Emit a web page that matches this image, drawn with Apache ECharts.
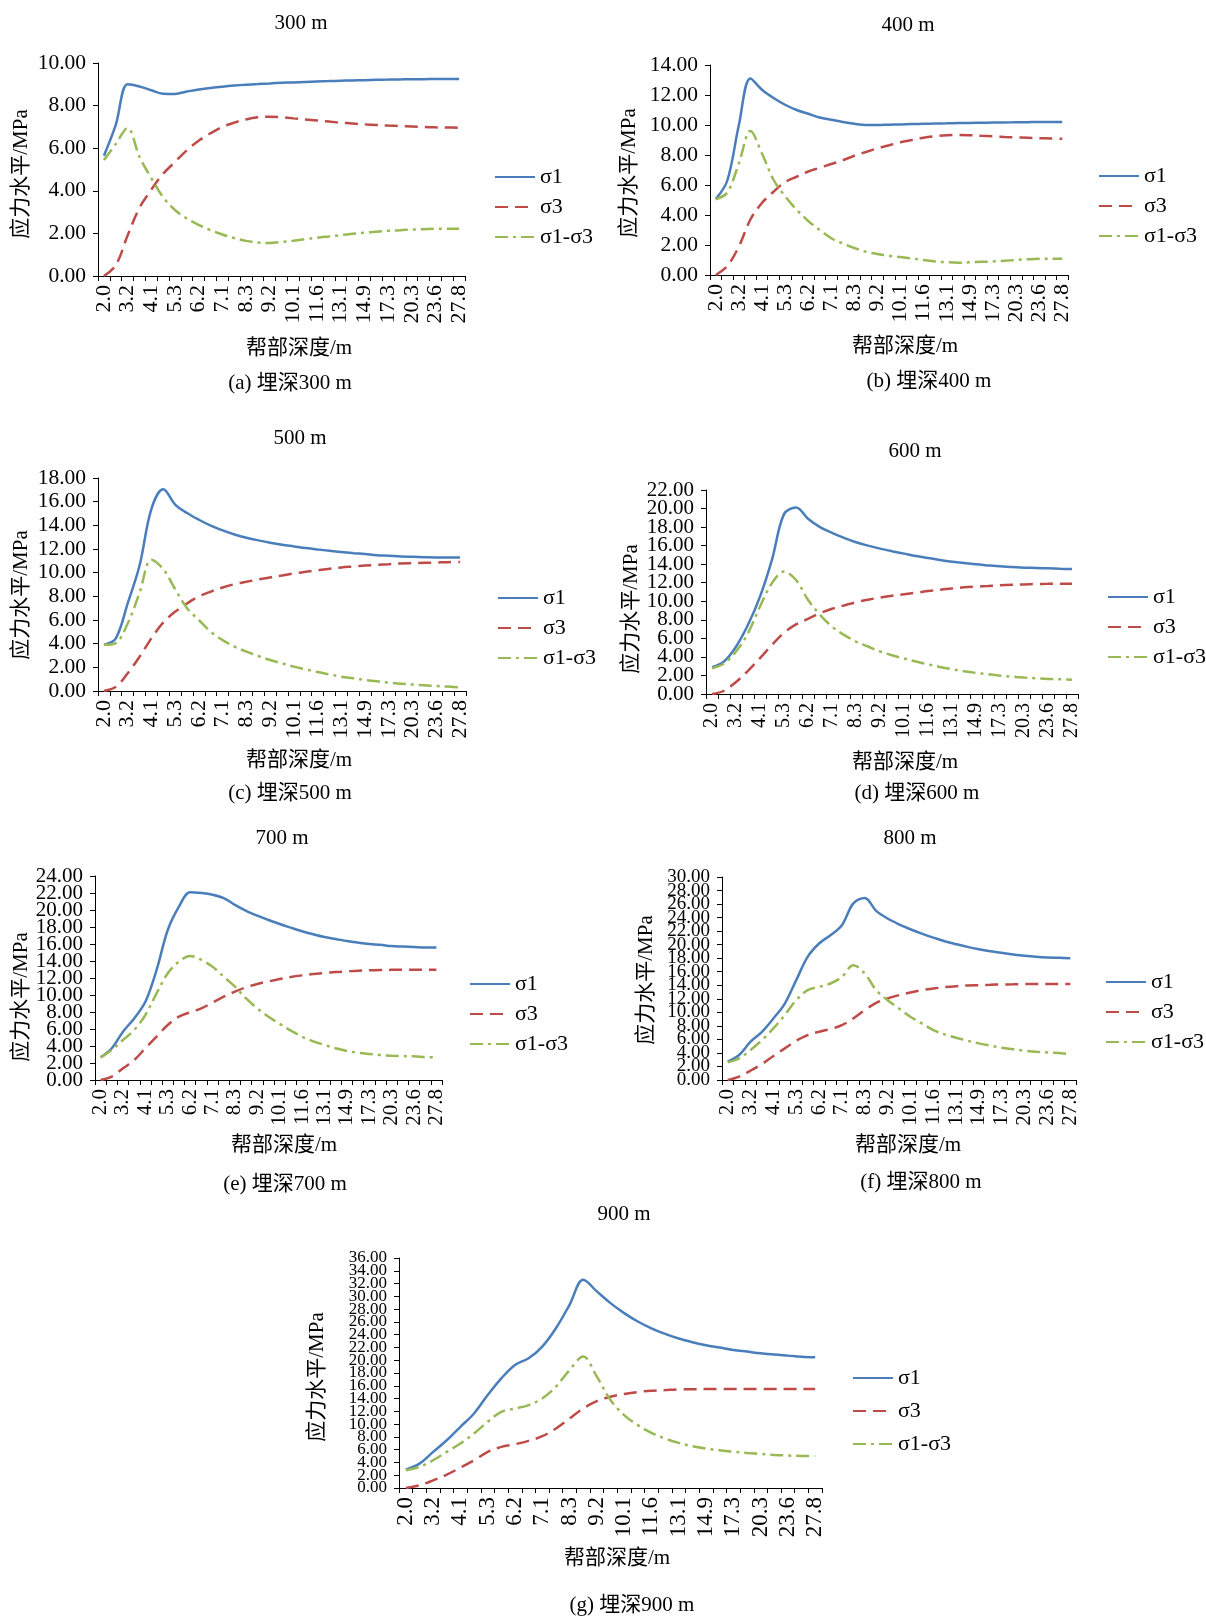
<!DOCTYPE html>
<html><head><meta charset="utf-8">
<script src="https://cdn.jsdelivr.net/npm/echarts@6/dist/echarts.min.js"></script>
<style>html,body{margin:0;padding:0;background:#fff}#c{width:1206px;height:1618px}</style>
</head><body><div id="c"></div>
<script>
// ---- data ----
const depthLabels = ['2.0','2.6','3.2','3.7','4.1','4.7','5.3','5.8','6.2','6.7','7.1','7.7','8.3','8.8','9.2','9.7','10.1','10.9','11.6','12.3','13.1','14.0','14.9','16.1','17.3','18.8','20.3','21.9','23.6','25.7','27.8'];
const seriesNames = ['σ1','σ3','σ1-σ3'];
const panelTitles = ['300 m','400 m','500 m','600 m','700 m','800 m','900 m'];
const panelCaptions = ['(a) 埋深300 m','(b) 埋深400 m','(c) 埋深500 m','(d) 埋深600 m','(e) 埋深700 m','(f) 埋深800 m','(g) 埋深900 m'];
const yMaxes = [10, 14, 18, 22, 24, 30, 36];
const yStep = 2;
const xAxisName = '帮部深度/m';
const yAxisName = '应力水平/MPa';

const s1_300 = [5.65,7.1,9.0,8.9,8.72,8.56,8.55,8.66,8.76,8.83,8.89,8.94,8.98,9.01,9.04,9.07,9.09,9.11,9.13,9.15,9.17,9.18,9.19,9.21,9.22,9.23,9.24,9.24,9.25,9.25,9.25];
const s3_300 = [0.0,0.5,1.9,3.2,4.05,4.8,5.35,5.9,6.35,6.7,7.0,7.2,7.35,7.45,7.48,7.45,7.4,7.35,7.3,7.25,7.2,7.16,7.12,7.09,7.06,7.04,7.02,7.0,6.98,6.97,6.96];
const s13_300 = [5.45,6.2,6.95,5.6,4.6,3.7,3.1,2.7,2.4,2.15,1.95,1.78,1.65,1.57,1.55,1.6,1.66,1.73,1.8,1.86,1.92,1.98,2.03,2.08,2.12,2.15,2.18,2.2,2.22,2.22,2.22];

const s1_400 = [5.06,6.3,10.0,13.1,12.35,11.8,11.35,11.0,10.75,10.5,10.35,10.2,10.08,10.0,10.0,10.02,10.04,10.06,10.08,10.1,10.11,10.13,10.14,10.15,10.16,10.17,10.18,10.19,10.2,10.2,10.2];
const s3_400 = [0.0,0.6,1.9,3.7,4.8,5.55,6.2,6.55,6.9,7.15,7.4,7.65,7.95,8.2,8.45,8.65,8.85,9.0,9.15,9.25,9.32,9.34,9.32,9.28,9.24,9.2,9.18,9.15,9.12,9.1,9.08];
const s13_400 = [5.05,5.5,7.45,9.6,8.1,6.35,5.25,4.35,3.6,3.0,2.45,2.1,1.8,1.55,1.4,1.28,1.2,1.1,1.0,0.9,0.85,0.82,0.85,0.88,0.9,0.95,1.0,1.05,1.08,1.08,1.08];

const s1_500 = [3.9,4.45,7.4,10.6,15.4,17.05,15.75,15.04,14.47,13.97,13.57,13.23,12.95,12.73,12.53,12.36,12.22,12.08,11.96,11.85,11.74,11.65,11.57,11.48,11.43,11.37,11.34,11.31,11.29,11.29,11.28];
const s3_500 = [0.0,0.35,1.5,2.9,4.45,5.8,6.7,7.4,8.0,8.4,8.75,9.03,9.23,9.42,9.6,9.76,9.93,10.07,10.2,10.33,10.44,10.52,10.6,10.67,10.72,10.78,10.8,10.83,10.86,10.89,10.9];
const s13_500 = [3.9,4.05,5.7,8.3,11.1,10.3,8.6,7.0,6.0,5.0,4.3,3.75,3.33,2.96,2.62,2.34,2.06,1.83,1.6,1.41,1.21,1.07,0.93,0.82,0.7,0.62,0.54,0.48,0.42,0.37,0.3];

const s1_600 = [2.88,3.5,5.1,7.46,10.5,14.5,19.4,20.1,18.9,18.0,17.37,16.83,16.36,16.0,15.68,15.4,15.14,14.88,14.67,14.45,14.27,14.13,13.98,13.87,13.77,13.7,13.62,13.6,13.55,13.5,13.47];
const s3_600 = [0.0,0.35,1.3,2.5,3.86,5.3,6.6,7.5,8.1,8.72,9.2,9.55,9.9,10.17,10.4,10.6,10.76,10.92,11.1,11.25,11.38,11.5,11.58,11.65,11.72,11.78,11.82,11.86,11.88,11.9,11.9];
const s13_600 = [2.77,3.3,4.58,6.56,9.44,11.96,13.2,12.3,10.16,8.54,7.28,6.38,5.66,5.12,4.58,4.18,3.82,3.5,3.2,2.92,2.67,2.45,2.27,2.13,1.98,1.87,1.77,1.69,1.62,1.59,1.55];

const s1_700 = [2.67,3.73,5.69,7.25,9.2,12.94,17.65,20.4,22.1,22.0,21.8,21.4,20.6,19.9,19.33,18.82,18.35,17.92,17.5,17.14,16.82,16.6,16.35,16.16,16.0,15.9,15.76,15.7,15.65,15.6,15.6];
const s3_700 = [0.0,0.4,1.37,2.35,3.73,5.1,6.47,7.45,7.96,8.43,9.1,9.8,10.4,10.9,11.3,11.6,11.88,12.12,12.31,12.47,12.59,12.7,12.78,12.86,12.9,12.94,12.96,12.98,12.98,12.98,12.98];
const s13_700 = [2.67,3.53,4.7,5.88,7.65,10.2,12.55,13.92,14.6,14.12,13.33,12.16,10.98,9.6,8.43,7.45,6.6,5.8,5.1,4.55,4.12,3.73,3.41,3.2,3.06,2.94,2.86,2.82,2.78,2.7,2.65];

const s1_800 = [2.7,3.69,5.66,7.13,9.1,11.3,14.76,18.2,20.17,21.4,22.87,26.1,26.9,25.0,23.86,23.0,22.28,21.64,21.05,20.5,20.07,19.67,19.33,19.04,18.79,18.55,18.35,18.2,18.1,18.05,18.0];
const s3_800 = [0.0,0.5,1.38,2.36,3.54,4.67,5.8,6.64,7.13,7.52,8.1,9.1,10.33,11.4,12.05,12.54,12.94,13.28,13.52,13.72,13.87,13.97,14.02,14.07,14.12,14.14,14.17,14.17,14.17,14.17,14.17];
const s13_800 = [2.6,3.2,4.43,5.9,7.62,9.6,11.8,13.28,13.77,14.26,15.25,16.97,15.74,13.28,11.8,10.57,9.35,8.36,7.38,6.74,6.25,5.8,5.41,5.07,4.77,4.53,4.33,4.18,4.08,3.98,3.84];

const s1_900 = [2.88,3.82,5.65,7.48,9.58,11.67,14.55,17.16,19.26,20.3,22.13,25.0,28.68,32.6,30.77,28.94,27.37,26.06,25.0,24.12,23.39,22.82,22.34,21.98,21.61,21.35,21.09,20.88,20.72,20.56,20.46];
const s3_900 = [0.0,0.42,1.2,2.09,3.19,4.34,5.65,6.44,6.86,7.38,8.11,9.31,10.88,12.45,13.6,14.29,14.7,15.02,15.23,15.33,15.44,15.46,15.49,15.49,15.49,15.49,15.49,15.49,15.49,15.49,15.49];
const s13_900 = [2.77,3.3,4.34,5.65,6.96,8.53,10.36,11.93,12.45,12.98,14.02,15.86,18.47,20.57,17.43,13.76,11.41,9.84,8.63,7.74,7.06,6.54,6.17,5.91,5.7,5.49,5.34,5.18,5.08,5.02,5.02];

const panelData = [
  [s1_300, s3_300, s13_300],
  [s1_400, s3_400, s13_400],
  [s1_500, s3_500, s13_500],
  [s1_600, s3_600, s13_600],
  [s1_700, s3_700, s13_700],
  [s1_800, s3_800, s13_800],
  [s1_900, s3_900, s13_900]
];

// ---- layout ----
const layout = [
  {grid:{left:98,top:63,width:367,height:213}, title:[301,23], caption:[290,383], xName:[299,348], yName:[21,174], legend:[494,166], yFont:21.5, xFont:22, legGap:8},
  {grid:{left:710,top:65,width:358,height:210}, title:[908,25], caption:[929,381], xName:[905,346], yName:[629,173], legend:[1098,165], yFont:21.5, xFont:22, legGap:8},
  {grid:{left:98,top:478,width:368,height:213}, title:[300,438], caption:[290,793], xName:[299,760], yName:[21,595], legend:[497,587], yFont:21.5, xFont:22, legGap:8},
  {grid:{left:706,top:490,width:372,height:204}, title:[915,451], caption:[917,793], xName:[905,762], yName:[631,609], legend:[1107,586], yFont:21, xFont:20, legGap:8},
  {grid:{left:95,top:876,width:347,height:204}, title:[282,838], caption:[285,1184], xName:[284,1145], yName:[21,997], legend:[469,973], yFont:21, xFont:21, legGap:8},
  {grid:{left:722,top:877,width:354,height:203}, title:[910,838], caption:[921,1182], xName:[908,1145], yName:[646,980], legend:[1105,971], yFont:19, xFont:21, legGap:8},
  {grid:{left:399,top:1258,width:423,height:230}, title:[624,1214], caption:[632,1605], xName:[617,1558], yName:[317,1377], legend:[852,1367], yFont:17, xFont:23, legGap:11}
];

const FONT = "'Liberation Serif','Noto Sans CJK SC',serif";
const colors = ['#4A7EBB', '#BE4B48', '#98B954'];
const dashes = ['solid', [13, 7], [13, 5, 3, 5]];

const grids = [], xAxes = [], yAxes = [], series = [], legends = [], graphics = [];
function txt(t, pos, size, rot) {
  return {type:'text', x:pos[0], y:pos[1], rotation: rot || 0, silent:true,
    style:{text:t, fontSize:size, fontFamily:FONT, fill:'#000', align:'center', verticalAlign:'middle'}};
}
layout.forEach((L, i) => {
  const yMax = yMaxes[i];
  const isInner = v => Math.abs(v - yStep) < 1e-9 || Math.abs(v - (yMax - yStep)) < 1e-9;
  grids.push(Object.assign({containLabel:false}, L.grid));
  xAxes.push({
    type:'category', gridIndex:i, data:depthLabels, boundaryGap:true,
    axisLine:{lineStyle:{color:'#000', width:1}},
    axisTick:{show:true, interval:0, length:5, lineStyle:{color:'#000'}},
    axisLabel:{interval:1, rotate:90, margin:9, color:'#000', fontSize:L.xFont, fontFamily:FONT, hideOverlap:false},
    splitLine:{show:false}
  });
  // main y axis (line, ticks, all labels except the two next to the ends)
  yAxes.push({
    type:'value', gridIndex:i, min:0, max:yMax, interval:yStep, position:'left',
    axisLine:{show:true, lineStyle:{color:'#000', width:1}},
    axisTick:{show:true, length:5, lineStyle:{color:'#000'}},
    axisLabel:{color:'#000', fontSize:L.yFont, fontFamily:FONT, margin:12, showMinLabel:true, showMaxLabel:true, hideOverlap:false,
      formatter:v => isInner(v) ? '' : v.toFixed(2)},
    splitLine:{show:false}
  });
  // overlay label axis so the labels next to the ends are not auto-hidden
  yAxes.push({
    type:'value', gridIndex:i, min:0, max:yMax, interval:yStep, position:'left', offset:0,
    axisLine:{show:false}, axisTick:{show:false}, splitLine:{show:false},
    axisLabel:{color:'#000', fontSize:L.yFont, fontFamily:FONT, margin:12, showMinLabel:false, showMaxLabel:false, hideOverlap:false,
      formatter:v => isInner(v) ? v.toFixed(2) : ''}
  });
  panelData[i].forEach((arr, k) => {
    series.push({
      type:'line', name:seriesNames[k], xAxisIndex:i, yAxisIndex:2 * i, data:arr,
      smooth:0.35, symbol:'none', showSymbol:false, animation:false,
      lineStyle:{color:colors[k], width:2.5, type:dashes[k], cap:'butt'},
      itemStyle:{color:colors[k]}
    });
  });
  legends.push({
    data:seriesNames, orient:'vertical', left:L.legend[0], top:L.legend[1], padding:0,
    itemWidth:40, itemHeight:14, itemGap:L.legGap, selectedMode:false,
    itemStyle:{opacity:0},
    textStyle:{fontSize:22, fontFamily:FONT, color:'#000'}
  });
  graphics.push(txt(panelTitles[i], L.title, 21));
  graphics.push(txt(panelCaptions[i], L.caption, 21));
  graphics.push(txt(xAxisName, L.xName, 21));
  graphics.push(txt(yAxisName, L.yName, 21, Math.PI / 2));
});

const chart = echarts.init(document.getElementById('c'), null, {renderer:'canvas'});
chart.setOption({
  backgroundColor:'#fff', animation:false,
  grid:grids, xAxis:xAxes, yAxis:yAxes, series:series, legend:legends,
  graphic:{elements:graphics}
});
</script></body></html>
